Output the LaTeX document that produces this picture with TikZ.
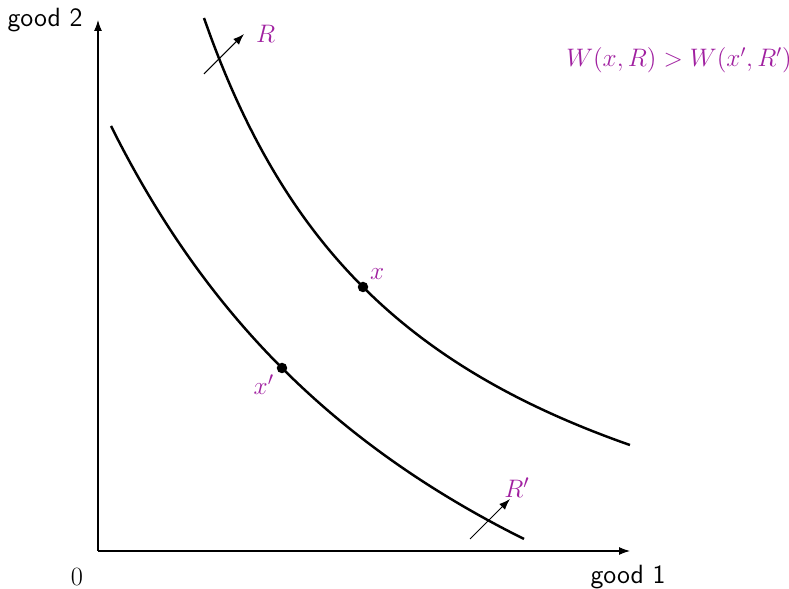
\documentclass[tikz,border=0pt]{standalone}
\usetikzlibrary{arrows.meta, positioning}
\definecolor{cpurple}{HTML}{A020A0}
\tikzset{
  every picture/.style={font=\sffamily\fontsize{15}{18}\selectfont},
  axis/.style={-{Latex[length=2.2mm, width=1.6mm]}, line width=0.6pt},
  curve/.style={line width=1.4pt, smooth, samples=60},
  shiftarrow/.style={-{Latex[length=2.2mm, width=1.6mm]}, line width=0.6pt},
  dot/.style={circle, fill=black, inner sep=0pt, minimum size=2.1mm},
  lbl/.style={text=cpurple, inner sep=1pt},
}
\begin{document}
\begin{tikzpicture}
  \useasboundingbox (-1.96,-0.76) rectangle (13.82,11.02);
  % axes
  \coordinate (O) at (0,0);
  \coordinate (xend) at (10.64,0);
  \coordinate (yend) at (0,10.62);
  \draw[axis] (O) -- (xend);
  \draw[axis] (O) -- (yend);
  \node (good2) at (-1.06,10.62) {good 2};
  \node (good1) at (10.6,-0.52) {good 1};
  \node[font=\rmfamily\fontsize{15}{18}\selectfont] (zero) at (-0.42,-0.52) {0};
  % indifference curves
  \draw[curve] plot[domain=2.12:10.64] (\x, {60.215/(\x+2.464)-2.476});
  \draw[curve] plot[domain=0.26:8.52] (\x, {135.86/(\x+7.976)-7.996});
  \node[dot] (x) at (5.3,5.28) {};
  \node[dot] (xp) at (3.68,3.66) {};
  \node[lbl, anchor=south west] (xlab) at ([xshift=0.02cm, yshift=0.02cm]x.north east) {$x$};
  \node[lbl, anchor=north east] (xplab) at ([xshift=-0.04cm, yshift=-0.02cm]xp.south west) {$x'$};
  % shifts
  \coordinate (Rtail) at (2.12,9.54);
  \coordinate (Rhead) at (2.92,10.34);
  \draw[shiftarrow] (Rtail) -- (Rhead);
  \node[lbl, anchor=west] (Rlab) at ([xshift=0.2cm]Rhead) {$R$};
  \coordinate (Rptail) at (7.44,0.24);
  \coordinate (Rphead) at (8.24,1.04);
  \draw[shiftarrow] (Rptail) -- (Rphead);
  \node[lbl, anchor=south] (Rplab) at ([xshift=0.14cm, yshift=-0.02cm]Rphead) {$R'$};
  \node[lbl, font=\fontsize{14}{17}\selectfont] (welfare) at (11.62,9.82) {$W(x,R) > W(x',R')$};
\end{tikzpicture}
\end{document}
